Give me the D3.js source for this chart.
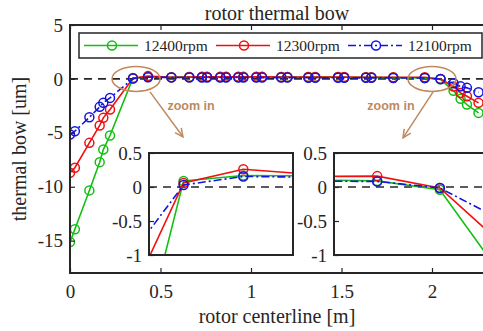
<!DOCTYPE html>
<html>
<head>
<meta charset="utf-8">
<script src="https://cdn.jsdelivr.net/npm/d3@7"></script>
<style>
  body { margin: 0; background: #fff; }
  text { font-family: "Liberation Serif", "Times New Roman", serif; fill: #262626; }
  .line { fill: none; stroke-width: 1.6; }
  .dot { fill: none; stroke-width: 1.5; }
  .frame { fill: none; stroke: #262626; stroke-width: 2; }
  .tick line { stroke: #262626; stroke-width: 1.2; }
  .domain { display: none; }
  .zero { stroke: #262626; stroke-width: 1.6; stroke-dasharray: 8,6; }
  .note { stroke: #c0895e; fill: none; stroke-width: 1.5; }
</style>
</head>
<body>
<svg id="chart"></svg>
<script>
const W = 483, H = 331;

// rotor positions [m]
const xPos = [0, 0.027, 0.107, 0.164, 0.184, 0.221, 0.348, 0.431, 0.560, 0.659, 0.729, 0.757,
  0.830, 0.862, 0.930, 0.958, 1.029, 1.061, 1.167, 1.201, 1.317, 1.355, 1.481, 1.515,
  1.635, 1.665, 1.786, 1.960, 2.047, 2.119, 2.158, 2.193, 2.257];

// thermal bow [um]
const bow12400 = [-15.13, -13.95, -10.34, -7.72, -6.55, -5.25, 0.09, 0.17, 0.16, 0.17, 0.17, 0.17,
  0.18, 0.18, 0.18, 0.18, 0.18, 0.18, 0.18, 0.18, 0.17, 0.17, 0.17, 0.16,
  0.15, 0.14, 0.12, 0.09, -0.04, -1.10, -1.85, -2.38, -3.15];
const bow12300 = [-8.70, -8.24, -5.93, -4.32, -3.61, -2.84, 0.06, 0.26, 0.16, 0.18, 0.19, 0.19,
  0.19, 0.19, 0.19, 0.19, 0.19, 0.19, 0.18, 0.18, 0.18, 0.18, 0.17, 0.17,
  0.16, 0.16, 0.15, 0.16, -0.015, -0.70, -1.30, -1.61, -2.22];
const bow12100 = [-5.16, -4.85, -3.56, -2.59, -2.22, -1.76, 0.03, 0.155, 0.14, 0.13, 0.13, 0.13,
  0.13, 0.13, 0.13, 0.13, 0.12, 0.12, 0.12, 0.12, 0.11, 0.11, 0.11, 0.10,
  0.10, 0.10, 0.09, 0.082, -0.015, -0.41, -0.69, -0.83, -1.24];

const seriesNames = ["12400rpm", "12300rpm", "12100rpm"];
const seriesColors = ["#12c012", "#f01010", "#1414e0"];
const seriesDash = [null, null, "8,3,2,3"];
const seriesValues = [bow12400, bow12300, bow12100];

const xTicks = [0, 0.5, 1, 1.5, 2];
const yTicks = [5, 0, -5, -10, -15];
const insetTicks = [0.5, 0, -0.5, -1];

// annotation anchors in data units
const ellipseCenters = [[0.365, 0], [2.0, 0]];
const arrowLines = [[[0.442, -1.2], [0.624, -5.37]], [[2.006, -1.2], [1.84, -5.46]]];
const noteText = [[0.669, -2.87], [1.773, -2.87]];

const series = seriesNames.map((name, i) => ({
  name: name, color: seriesColors[i], dash: seriesDash[i],
  pts: xPos.map((x, j) => ({ x: x, y: seriesValues[i][j] }))
}));

const svg = d3.select("#chart").attr("width", W).attr("height", H);
const defs = svg.append("defs");

function drawPanel(id, box, xDomain, yDomain, r) {
  const x = d3.scaleLinear().domain(xDomain).range([box.x0, box.x1]);
  const y = d3.scaleLinear().domain(yDomain).range([box.y1, box.y0]);

  defs.append("clipPath").attr("id", "clip-" + id)
    .append("rect").attr("x", box.x0).attr("y", box.y0)
    .attr("width", box.x1 - box.x0).attr("height", box.y1 - box.y0);

  const g = svg.append("g").attr("id", id);
  g.append("rect").attr("x", box.x0).attr("y", box.y0)
    .attr("width", box.x1 - box.x0).attr("height", box.y1 - box.y0)
    .attr("fill", "#fff");

  const plot = g.append("g").attr("clip-path", "url(#clip-" + id + ")");
  plot.append("line").attr("class", "zero")
    .attr("x1", box.x0).attr("x2", box.x1).attr("y1", y(0)).attr("y2", y(0));

  const line = d3.line().x(d => x(d.x)).y(d => y(d.y));
  series.forEach(s => {
    plot.append("path").datum(s.pts)
      .attr("class", "line")
      .attr("d", line)
      .attr("stroke", s.color)
      .attr("stroke-dasharray", s.dash);
    plot.selectAll(null).data(s.pts).join("circle")
      .attr("class", "dot")
      .attr("cx", d => x(d.x)).attr("cy", d => y(d.y)).attr("r", r)
      .attr("stroke", s.color);
  });

  g.append("rect").attr("class", "frame").attr("x", box.x0).attr("y", box.y0)
    .attr("width", box.x1 - box.x0).attr("height", box.y1 - box.y0);
  return { g: g, x: x, y: y };
}

// main panel
const main = drawPanel("main", { x0: 70, x1: 486.3, y0: 25, y1: 273 }, [0, 2.3], [-18, 5], 4.5);

main.g.append("g").attr("transform", "translate(0,273)")
  .call(d3.axisBottom(main.x).tickValues(xTicks).tickSize(-5).tickPadding(12).tickFormat(d => String(d)))
  .call(a => a.selectAll("text").attr("font-size", 19));
main.g.append("g").attr("transform", "translate(0,25)")
  .call(d3.axisTop(main.x).tickValues(xTicks).tickSize(-5).tickFormat(""));
main.g.append("g").attr("transform", "translate(70,0)")
  .call(d3.axisLeft(main.y).tickValues(yTicks).tickSize(-5).tickPadding(7).tickFormat(d => String(d)))
  .call(a => a.selectAll("text").attr("font-size", 19));

// annotations
const notes = svg.append("g");
notes.selectAll("ellipse").data(ellipseCenters).join("ellipse")
  .attr("class", "note")
  .attr("cx", d => main.x(d[0])).attr("cy", d => main.y(d[1]))
  .attr("rx", 24).attr("ry", 12.5);
arrowLines.forEach(a => {
  const x1 = main.x(a[0][0]), y1 = main.y(a[0][1]);
  const x2 = main.x(a[1][0]), y2 = main.y(a[1][1]);
  const ang = Math.atan2(y2 - y1, x2 - x1);
  const h = 9, spread = 0.45;
  notes.append("line").attr("class", "note")
    .attr("x1", x1).attr("y1", y1).attr("x2", x2).attr("y2", y2);
  notes.append("path").attr("class", "note")
    .attr("d", "M" + (x2 - h * Math.cos(ang - spread)) + "," + (y2 - h * Math.sin(ang - spread)) +
      "L" + x2 + "," + y2 +
      "L" + (x2 - h * Math.cos(ang + spread)) + "," + (y2 - h * Math.sin(ang + spread)));
});
notes.selectAll("text").data(noteText).join("text")
  .attr("x", d => main.x(d[0])).attr("y", d => main.y(d[1]))
  .attr("text-anchor", "middle")
  .style("font-family", "'Liberation Sans', Arial, sans-serif")
  .attr("font-weight", "bold").attr("font-size", 12.5)
  .style("fill", "#c0895e")
  .text("zoom in");

// insets
function drawInset(id, box, xDomain) {
  const p = drawPanel(id, box, xDomain, [-1, 0.5], 4.5);
  p.g.append("g").attr("transform", "translate(" + box.x0 + ",0)")
    .call(d3.axisLeft(p.y).tickValues(insetTicks).tickSize(-5).tickPadding(7).tickFormat(d => String(d)))
    .call(a => a.selectAll("text").attr("font-size", 19));
  return p;
}
drawInset("inset1", { x0: 149, x1: 293, y0: 153, y1: 255 }, [0.3, 0.5]);
drawInset("inset2", { x0: 334, x1: 487, y0: 153, y1: 255 }, [1.9, 1.9 + 153 / 720]);

// legend
const leg = svg.append("g");
leg.append("rect").attr("x", 79).attr("y", 33).attr("width", 403).attr("height", 25)
  .attr("fill", "#fff").attr("stroke", "#262626").attr("stroke-width", 1.5);
series.forEach((s, i) => {
  const lx = 84 + i * 132;
  leg.append("line").attr("class", "line")
    .attr("x1", lx).attr("x2", lx + 54).attr("y1", 45.5).attr("y2", 45.5)
    .attr("stroke", s.color).attr("stroke-dasharray", s.dash);
  leg.append("circle").attr("class", "dot")
    .attr("cx", lx + 28).attr("cy", 45.5).attr("r", 4.5).attr("stroke", s.color);
  leg.append("text").attr("x", lx + 60).attr("y", 51)
    .attr("font-size", 15.5).text(s.name);
});

// titles
svg.append("text").attr("x", 277).attr("y", 20).attr("text-anchor", "middle")
  .attr("font-size", 20).text("rotor thermal bow");
svg.append("text").attr("x", 277).attr("y", 323).attr("text-anchor", "middle")
  .attr("font-size", 20).text("rotor centerline [m]");
svg.append("text").attr("transform", "translate(26,149) rotate(-90)")
  .attr("text-anchor", "middle").attr("font-size", 20).text("thermal bow [um]");
</script>
</body>
</html>
